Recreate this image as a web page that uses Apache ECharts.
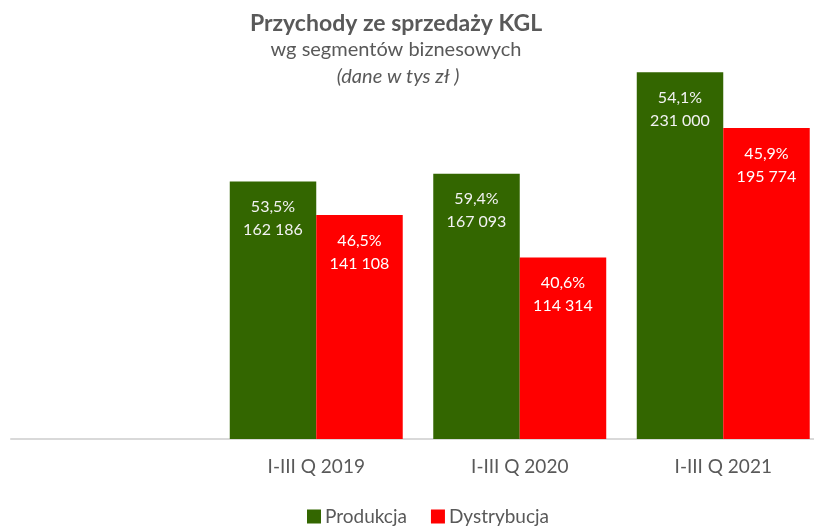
<!DOCTYPE html>
<html>
<head lang="pl">
    <meta charset="UTF-8"/>
    <title>Przychody ze sprzedaży KGL</title>
    <script src='https://cdn.jsdelivr.net/npm/echarts@6/dist/echarts.min.js'></script>
    <style>
        body { margin: 0; background: #fff; }
    </style>
</head>
<body>
<div id="main" style="width: 814px;height:526px;"></div>
<script>
    // dane
    var categories = ['', 'I-III Q 2019', 'I-III Q 2020', 'I-III Q 2021'];
    var produkcja = [null, 162186, 167093, 231000];
    var dystrybucja = [null, 141108, 114314, 195774];
    var produkcjaPct = ['', '53,5%', '59,4%', '54,1%'];
    var dystrybucjaPct = ['', '46,5%', '40,6%', '45,9%'];

    function fmt(v) {
        return String(v).replace(/\B(?=(\d{3})+(?!\d))/g, ' ');
    }

    var font = 'Lato, "Open Sans", sans-serif';
    var myChart = echarts.init(document.getElementById('main'));
    var option = {
        animation: false,
        title: [{
            text: 'Przychody ze sprzedaży KGL',
            left: 391, top: 7, textAlign: 'center',
            textStyle: {fontFamily: font, fontSize: 23, fontWeight: 'bold', color: '#595959'}
        }, {
            text: 'wg segmentów biznesowych',
            left: 391, top: 35, textAlign: 'center',
            textStyle: {fontFamily: font, fontSize: 20, fontWeight: 'normal', color: '#595959'}
        }, {
            text: '(dane w tys zł )',
            left: 393, top: 62, textAlign: 'center',
            textStyle: {fontFamily: font, fontSize: 20, fontWeight: 'normal', fontStyle: 'italic', color: '#595959'}
        }],
        legend: {
            top: 502, left: 302,
            itemWidth: 14, itemHeight: 14, itemGap: 24,
            icon: 'rect',
            textStyle: {fontFamily: font, fontSize: 19, color: '#595959', padding: [0, 0, 0, -1]},
            data: ['Produkcja', 'Dystrybucja']
        },
        grid: {left: 11, width: 814, top: 42, height: 397, outerBoundsMode: 'none', containLabel: false},
        xAxis: {
            type: 'category',
            data: categories,
            axisLine: {lineStyle: {color: '#d9d9d9', width: 2}},
            axisTick: {show: false},
            axisLabel: {fontFamily: font, fontSize: 19, color: '#595959', margin: 18}
        },
        yAxis: {
            type: 'value', min: 0, max: 250000,
            show: false, splitLine: {show: false}
        },
        series: [{
            name: 'Produkcja',
            type: 'bar',
            data: produkcja,
            barGap: '0%',
            barCategoryGap: '15%',
            itemStyle: {color: '#336600'},
            label: {
                show: true, position: 'insideTop', distance: 14,
                fontFamily: font, fontSize: 16, color: '#f2f2f2', lineHeight: 23,
                formatter: function (p) { return produkcjaPct[p.dataIndex] + '\n' + fmt(p.value); }
            }
        }, {
            name: 'Dystrybucja',
            type: 'bar',
            data: dystrybucja,
            itemStyle: {color: '#ff0000'},
            label: {
                show: true, position: 'insideTop', distance: 14,
                fontFamily: font, fontSize: 16, color: '#ffffff', lineHeight: 23,
                formatter: function (p) { return dystrybucjaPct[p.dataIndex] + '\n' + fmt(p.value); }
            }
        }]
    };
    myChart.setOption(option);
</script>
</body>
</html>
